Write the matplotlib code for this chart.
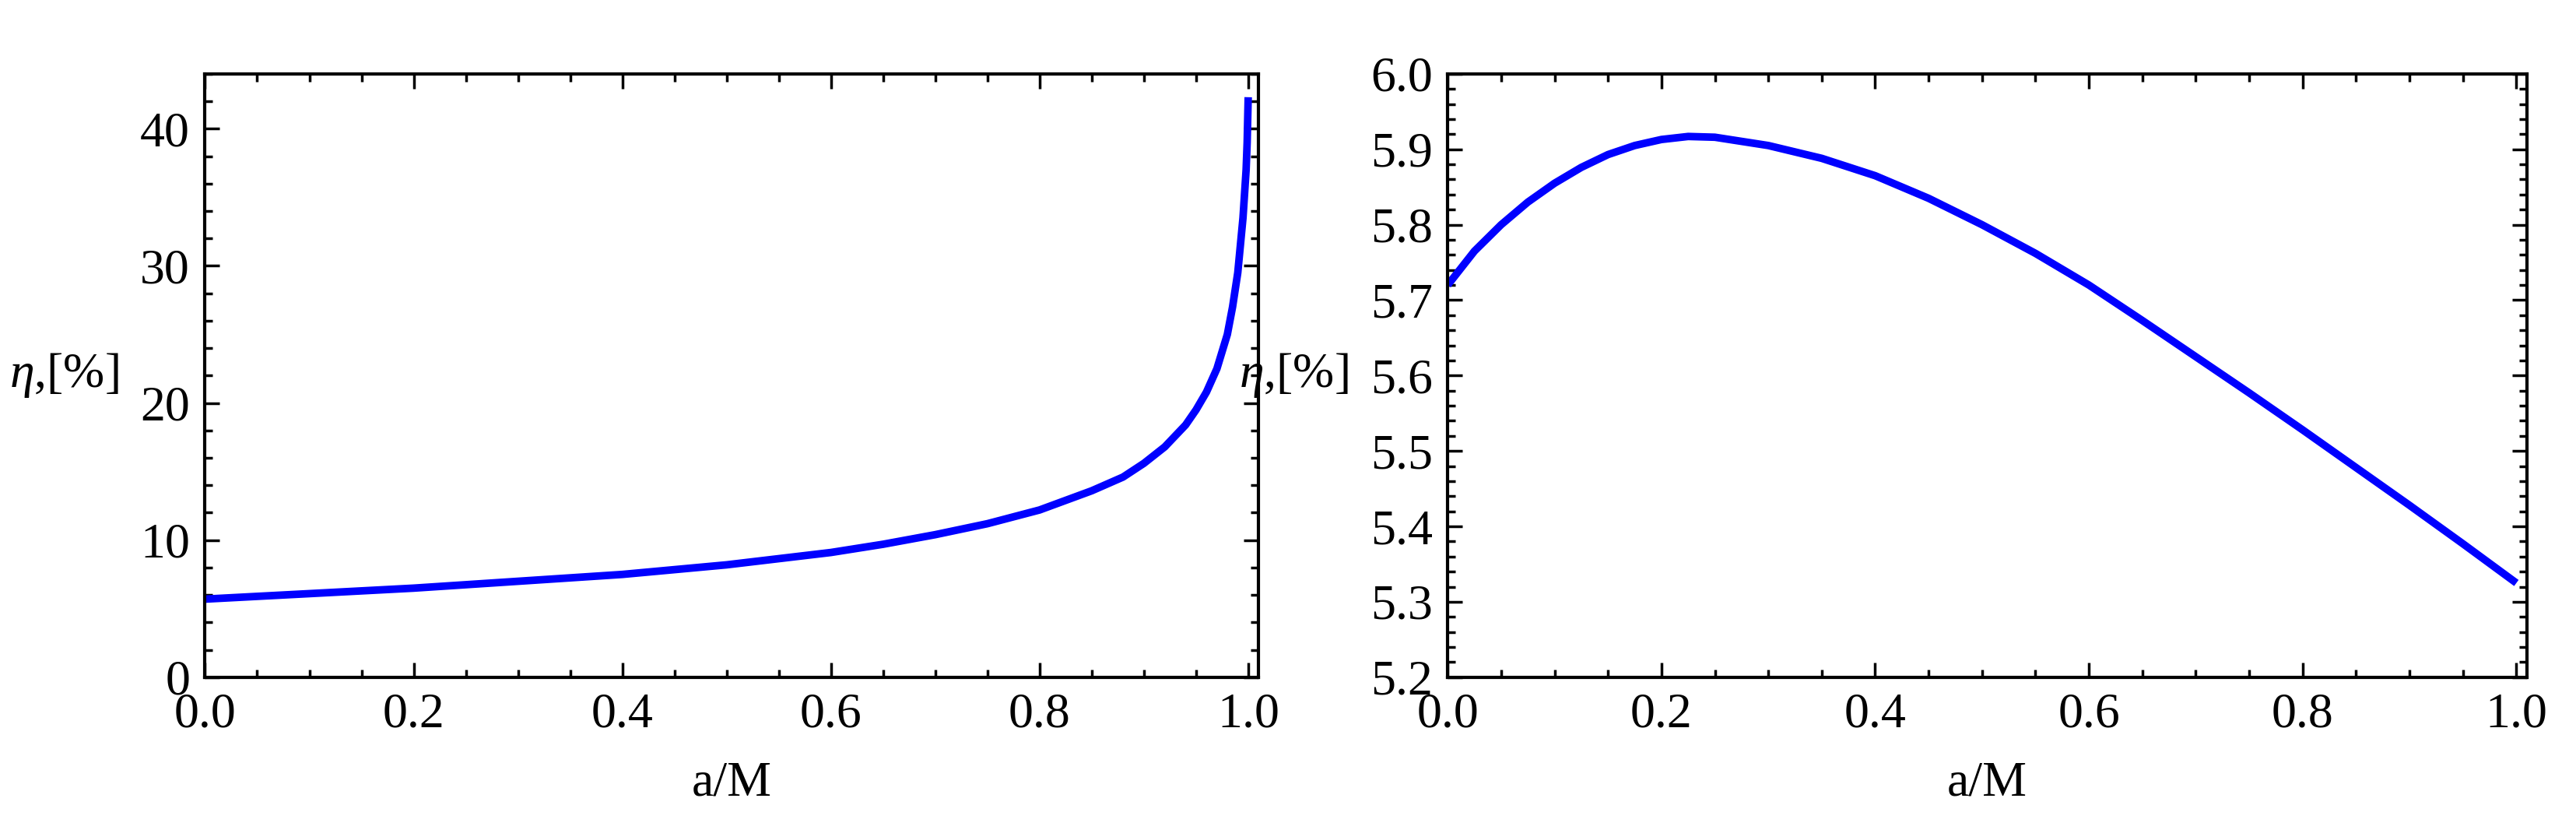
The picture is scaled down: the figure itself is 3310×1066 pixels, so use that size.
import matplotlib
matplotlib.use("Agg")
import matplotlib.pyplot as plt
from matplotlib.ticker import MultipleLocator

plt.rcParams['font.family'] = ['Liberation Serif', 'DejaVu Serif']
plt.rcParams['mathtext.fontset'] = 'custom'
plt.rcParams['mathtext.rm'] = 'Liberation Serif'
plt.rcParams['mathtext.it'] = 'Liberation Serif:italic'

a_left = [0, 0.1, 0.2, 0.3, 0.4, 0.5, 0.6, 0.65, 0.7, 0.75, 0.8, 0.85, 0.88, 0.9,
          0.92, 0.94, 0.95, 0.96, 0.97, 0.98, 0.985, 0.99, 0.995, 0.998, 0.999, 1.0]
eta_left = [5.7, 6.1, 6.5, 7.0, 7.5, 8.2, 9.1, 9.7, 10.4, 11.2, 12.2, 13.6, 14.6, 15.6,
            16.8, 18.4, 19.5, 20.8, 22.5, 25.0, 27.0, 29.5, 33.5, 37.0, 39.0, 42.3]

a_right = [0, 0.025, 0.05, 0.075, 0.1, 0.125, 0.15, 0.175, 0.2, 0.225, 0.25, 0.3, 0.35, 0.4,
           0.45, 0.5, 0.55, 0.6, 0.65, 0.7, 0.75, 0.8, 0.85, 0.9, 0.95, 1.0]
eta_right = [5.72, 5.765, 5.80, 5.83, 5.855, 5.876, 5.893, 5.905, 5.913, 5.917, 5.916, 5.905,
             5.888, 5.865, 5.835, 5.80, 5.762, 5.72, 5.673, 5.625, 5.577, 5.528,
             5.478, 5.428, 5.377, 5.325]

fig = plt.figure(figsize=(33.1, 10.66), dpi=100)
ax1 = fig.add_axes([0.0796, 0.184, 0.409, 0.727])
ax2 = fig.add_axes([0.562, 0.184, 0.419, 0.727])

for ax, x, y, ylim, ymaj, ymin in [
        (ax1, a_left, eta_left, (0, 44), 10, 2),
        (ax2, a_right, eta_right, (5.2, 6.0), 0.1, 0.02)]:
    ax.plot(x, y, color='#0000ff', lw=7, solid_capstyle='butt')
    ax.set_xlim(0, 1.01)
    ax.set_ylim(*ylim)
    ax.xaxis.set_major_locator(MultipleLocator(0.2))
    ax.xaxis.set_minor_locator(MultipleLocator(0.05))
    ax.yaxis.set_major_locator(MultipleLocator(ymaj))
    ax.yaxis.set_minor_locator(MultipleLocator(ymin))
    ax.tick_params(which='both', direction='in', top=True, right=True,
                   labelsize=46, width=2.5, pad=14)
    ax.tick_params(which='major', length=14)
    ax.tick_params(which='minor', length=7)
    for s in ax.spines.values():
        s.set_linewidth(3)
    ax.set_xlabel('a/M', fontsize=46, labelpad=22)
    ax.set_ylabel(r'$\eta$,[%]', fontsize=46, rotation=0, ha='right', va='center', labelpad=20)

ax1.set_yticks([0, 10, 20, 30, 40])
ax1.set_yticklabels(['0', '10', '20', '30', '40'])
ax2.yaxis.set_major_formatter(matplotlib.ticker.FormatStrFormatter('%.1f'))

fig.savefig('out.png', dpi=100)
